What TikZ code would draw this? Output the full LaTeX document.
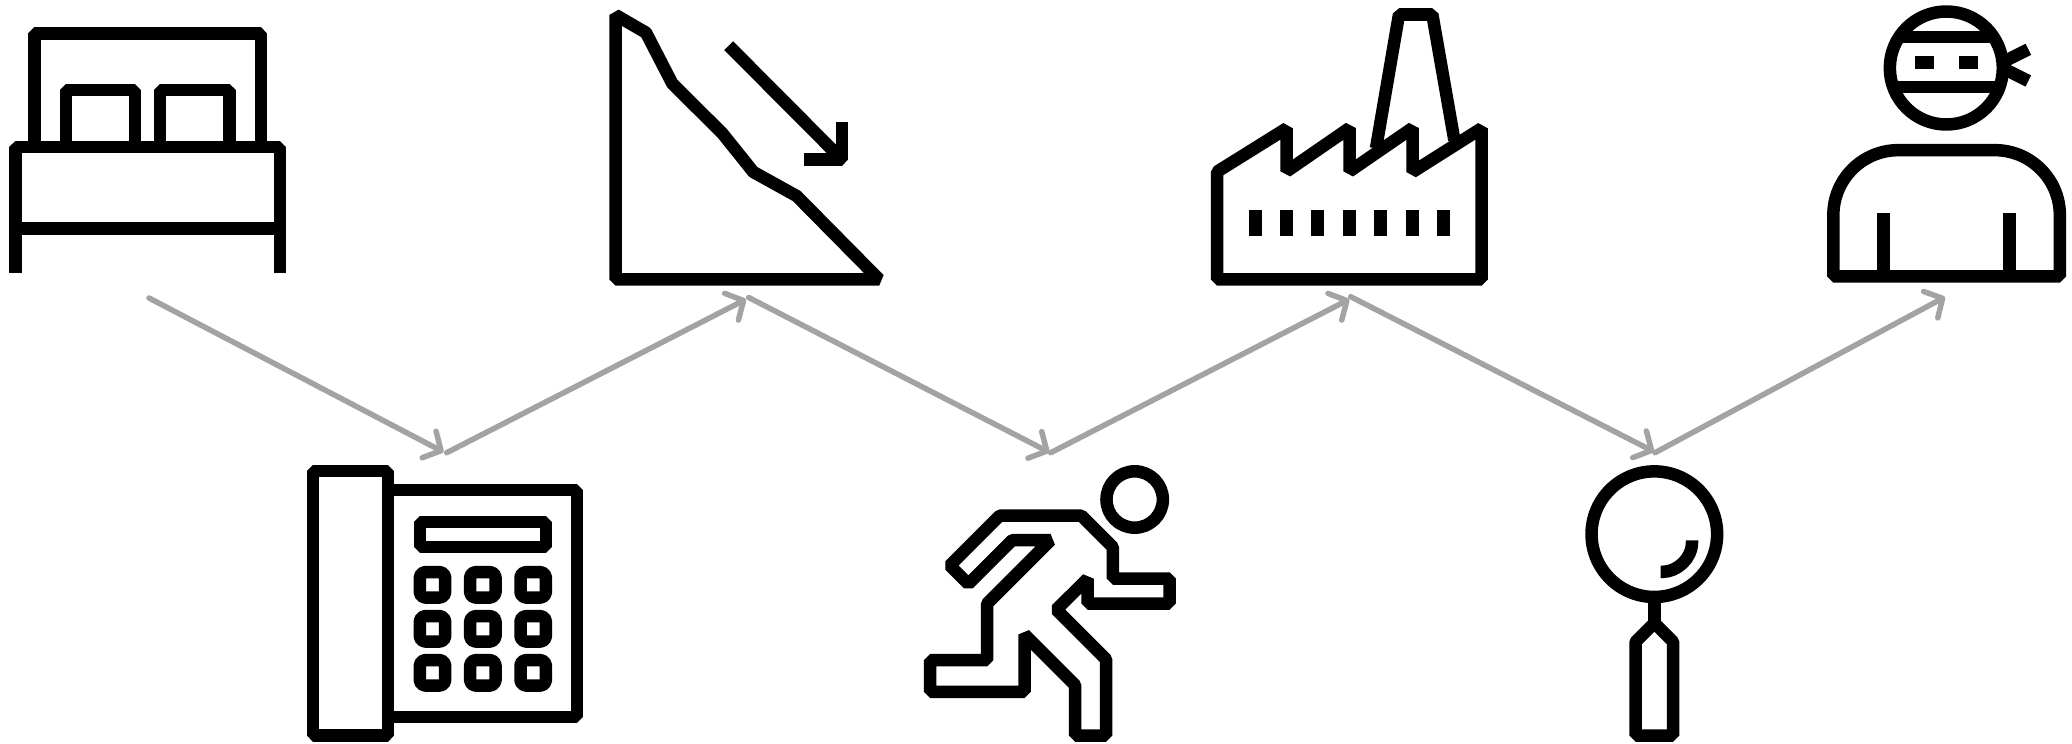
\documentclass[tikz,border=0pt]{standalone}
\usetikzlibrary{arrows.meta}
\definecolor{flowgrey}{HTML}{A3A3A3}
\tikzset{
  icon/.style={draw=black,line width=12.5pt,line join=bevel,line cap=butt,fill=none},
  flow/.style={draw=flowgrey,line width=5.5pt,line cap=round,
    -{Straight Barb[length=13.5pt,width=30pt,round,line width=5.5pt]}},
  zoomed/.style={x=0.33333pt,y=-0.33333pt},
}
\begin{document}
\begin{tikzpicture}[x=1pt,y=-1pt]
\useasboundingbox (0,0) rectangle (2072,744);
\fill[white] (0,0) rectangle (2072,744);
% connector anchors
\coordinate (bedout) at (149,298);
\coordinate (phonein) at (443.5,452);
\coordinate (phoneout) at (446.7,452.7);
\coordinate (hillin) at (746,299.3);
\coordinate (hillout) at (748.7,297.5);
\coordinate (runin) at (1049.3,452.3);
\coordinate (runout) at (1050.7,452.7);
\coordinate (factin) at (1349.3,299.3);
\coordinate (factout) at (1350.7,296.7);
\coordinate (magin) at (1654,451.7);
\coordinate (magout) at (1655,452.7);
\coordinate (ninjain) at (1945,297);
\draw[flow] (bedout) -- (phonein);
\draw[flow] (phoneout) -- (hillin);
\draw[flow] (hillout) -- (runin);
\draw[flow] (runout) -- (factin);
\draw[flow] (factout) -- (magin);
\draw[flow] (magout) -- (ninjain);
% bed
\begin{scope}[shift={(0,0)},zoomed]
\path[icon] (46.5,820) -- (46.5,441) -- (839.5,441) -- (839.5,820);
\path[icon] (46.5,686) -- (839.5,686);
\path[icon] (103.5,441) -- (103.5,100.5) -- (783.5,100.5) -- (783.5,441);
\path[icon] (198.5,441) -- (198.5,270.5) -- (405.5,270.5) -- (405.5,441);
\path[icon] (480.5,441) -- (480.5,270.5) -- (688.5,270.5) -- (688.5,441);
\end{scope}
% hillside
\begin{scope}[shift={(600,0)},zoomed]
\path[icon] (46.5,838.5) -- (46.5,45) -- (138,98) -- (217,251) -- (367,400) -- (460,516) -- (590,588) -- (837.5,838.5) -- cycle;
\path[icon] (386,137) -- (725.5,478);
\path[icon] (725.5,366) -- (725.5,478.5) -- (612,478.5);
\end{scope}
% factory
\begin{scope}[shift={(1200,0)},zoomed]
\path[icon] (51.5,838.5) -- (51.5,515) -- (260,385) -- (260,514) -- (448.5,384) -- (448.5,514) -- (637.5,384) -- (637.5,516) -- (844.5,385) -- (844.5,838.5) -- cycle;
\path[icon] (528,445) -- (597,43.5) -- (697,43.5) -- (763,420);
\foreach \wx in {166.5,259.5,352.5,448.5,541.5,637.5,730.5}
  \draw[black,line width=13pt] (\wx,630) -- (\wx,708);
\end{scope}
% ninja
\begin{scope}[shift={(1810,0)},zoomed]
\path[icon] (409,204) circle[radius=56.5pt];
\path[icon] (268,110.5) -- (550,110.5);
\path[icon] (255,261.5) -- (563,261.5);
\path[icon] (315,187) -- (372,187);
\path[icon] (447,187) -- (504,187);
\path[icon] (655,148) -- (578,186.5);
\path[icon] (655,243) -- (578,204.5);
\path[icon] (220.5,640) -- (220.5,829.5);
\path[icon] (598.5,640) -- (598.5,829.5);
\path[icon] (70,829.5) -- (70,645) .. controls (70,538) and (157,450.5) .. (265,450.5) -- (555,450.5) .. controls (662,450.5) and (749.5,538) .. (749.5,645) -- (749.5,829.5) -- cycle;
\end{scope}
% telephone
\begin{scope}[shift={(300,450)},zoomed]
\path[icon] (38.5,63.5) rectangle (264.5,856.5);
\path[icon] (264.5,120.5) -- (831.5,120.5) -- (831.5,801.5) -- (264.5,801.5);
\path[icon] (359.5,215.5) rectangle (737.5,290.5);
\foreach \kx in {359.5,510.5,661.5}
  \foreach \ky in {366.5,498.5,630.5}
    \path[icon,rounded corners=5pt] (\kx,\ky) rectangle ++(76,76);
\end{scope}
% runner
\begin{scope}[shift={(910,450)},zoomed]
\path[icon] (674,148.5) circle[radius=28.2pt];
\path[icon] (269,197) -- (514,197) -- (608.5,291.5) -- (608.5,385.5) -- (778.5,385.5) -- (778.5,460.5) -- (532.5,460.5) -- (532.5,386) -- (439,479) -- (588.5,628.5) -- (588.5,856.5) -- (495.5,856.5) -- (495.5,705.5) -- (343.5,553.5) -- (343.5,725.5) -- (60.5,725.5) -- (60.5,630.5) -- (231.5,630.5) -- (231.5,460.5) -- (421.5,270.5) -- (306.5,270.5) -- (175,402) -- (119.5,346.5) -- cycle;
\end{scope}
% magnifier
\begin{scope}[shift={(1560,450)},zoomed]
\path[icon] (283,252.5) circle[radius=62.8pt];
\path[icon] (283,441) -- (283,530);
\path[icon] (283,519) -- (339.5,575.5) -- (339.5,856.5) -- (226.5,856.5) -- (226.5,575.5) -- cycle;
\path[icon] (396,271) -- (396,277) .. controls (396,326) and (351,365.5) .. (308,365.5) -- (302,365.5);
\end{scope}
\end{tikzpicture}
\end{document}
